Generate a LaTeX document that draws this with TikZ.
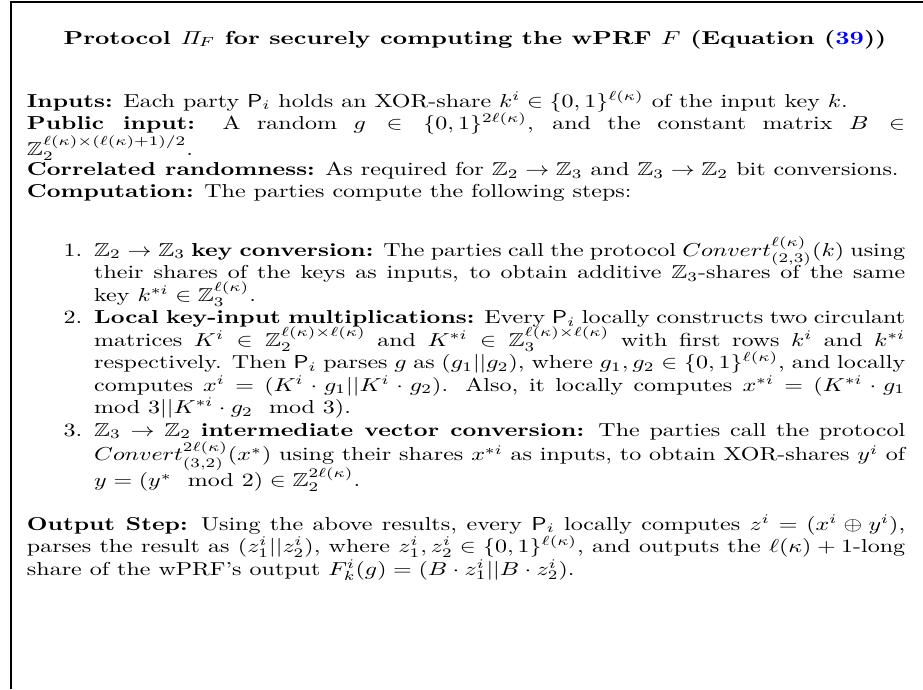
\documentclass[tikz,border=0pt]{standalone}
\usepackage{amsmath,amssymb}
\usepackage{graphicx}
\usepackage{xcolor}
\usepackage{enumitem}
\definecolor{linkblue}{rgb}{0,0,1}
\tikzset{
  frameline/.style={line width=0.8pt, black},
  para/.style={anchor=base west, inner sep=0pt, outer sep=0pt},
  titlebox/.style={anchor=base, inner sep=0pt}
}
\newlength{\boxtw}
\setlength{\boxtw}{365.9pt}
\newcommand{\hstretch}[1]{\scalebox{1.28}[1]{#1}}
\newcommand{\addgap}[1]{\vadjust{\vskip #1}}
\begin{document}
\setlength{\lineskiplimit}{-\maxdimen}
\setlength{\lineskip}{0pt}
\begin{tikzpicture}[x=0.5333pt,y=-0.5333pt]
\useasboundingbox (0,0) rectangle (923,689);
\coordinate (tl) at (11,2);
\coordinate (tr) at (923,2);
\coordinate (bl) at (11,689);
\draw[frameline] (tr) -- (tl) -- (bl);
\node[titlebox] (title) at (475,44) {\scalebox{1.33}[1]{\bfseries Protocol $\mathit{\Pi}_F$ for securely computing the wPRF $F$ (Equation (\textcolor{linkblue}{39}))}};
\node[para] (inputs) at (27,107) {\hstretch{\begin{minipage}[t]{\boxtw}\setlength{\parindent}{0pt}\setlength{\lineskiplimit}{0pt}\setlength{\lineskip}{1pt}%
\textbf{Inputs:} Each party $\mathsf{P}_i$ holds an XOR-share $k^i \in \{0,1\}^{\ell(\kappa)}$ of the input key $k$.\par
\textbf{Public input:} A random $g \in \{0,1\}^{2\ell(\kappa)}$, and the constant matrix $B \in$\linebreak $\mathbb{Z}_2^{\ell(\kappa)\times(\ell(\kappa)+1)/2}$.\par\vspace{-1.5pt}
\textbf{Correlated randomness:} As required for $\mathbb{Z}_2 \to \mathbb{Z}_3$ and $\mathbb{Z}_3 \to \mathbb{Z}_2$ bit conversions.\par
\textbf{Computation:} The parties compute the following steps:
\end{minipage}}};
\node[para] (steps) at (27,256) {\hstretch{\begin{minipage}[t]{\boxtw}\setlength{\lineskiplimit}{-\maxdimen}%
\begin{enumerate}[itemsep=0pt,parsep=0pt,topsep=0pt,partopsep=0pt,leftmargin=28pt,labelsep=5pt]
\item $\mathbb{Z}_2 \to \mathbb{Z}_3$ \textbf{key conversion:} The parties call the protocol $Convert_{(2,3)}^{\ell(\kappa)}(k)$ using\linebreak their shares of the keys as inputs, to obtain additive $\mathbb{Z}_3$-shares of the same\linebreak key $k^{*i} \in \mathbb{Z}_3^{\ell(\kappa)}$.
\item \textbf{Local key-input multiplications:} Every $\mathsf{P}_i$ locally constructs two circulant\linebreak matrices $K^i \in \mathbb{Z}_2^{\ell(\kappa)\times\ell(\kappa)}$ and $K^{*i} \in \mathbb{Z}_3^{\ell(\kappa)\times\ell(\kappa)}$ with first rows $k^i$ and $k^{*i}$\linebreak respectively. Then $\mathsf{P}_i$ parses $g$ as $(g_1||g_2)$, where $g_1, g_2 \in \{0,1\}^{\ell(\kappa)}$, and locally\linebreak computes $x^i = (K^i\cdot g_1||K^i\cdot g_2)$. Also, it locally computes $x^{*i} = (K^{*i}\cdot g_1$\linebreak $\mathrm{mod}\ 3||K^{*i}\cdot g_2 \mod{3})$.
\item $\mathbb{Z}_3 \to \mathbb{Z}_2$ \textbf{intermediate vector conversion:} The parties call the protocol\addgap{1.3pt}\linebreak $Convert_{(3,2)}^{2\ell(\kappa)}(x^*)$ using their shares $x^{*i}$ as inputs, to obtain XOR-shares $y^i$ of\addgap{1.8pt}\linebreak $y = (y^* \mod{2}) \in \mathbb{Z}_2^{2\ell(\kappa)}$.
\end{enumerate}
\end{minipage}}};
\node[para] (output) at (27,530) {\hstretch{\begin{minipage}[t]{\boxtw}\setlength{\parindent}{0pt}\setlength{\lineskiplimit}{-\maxdimen}%
\textbf{Output Step:} Using the above results, every $\mathsf{P}_i$ locally computes $z^i = (x^i \oplus y^i)$,\linebreak parses the result as $(z_1^i||z_2^i)$, where $z_1^i, z_2^i \in \{0,1\}^{\ell(\kappa)}$, and outputs the $\ell(\kappa)+1$-long\linebreak share of the wPRF's output $F_k^i(g) = (B\cdot z_1^i||B\cdot z_2^i)$.
\end{minipage}}};
\end{tikzpicture}
\end{document}
